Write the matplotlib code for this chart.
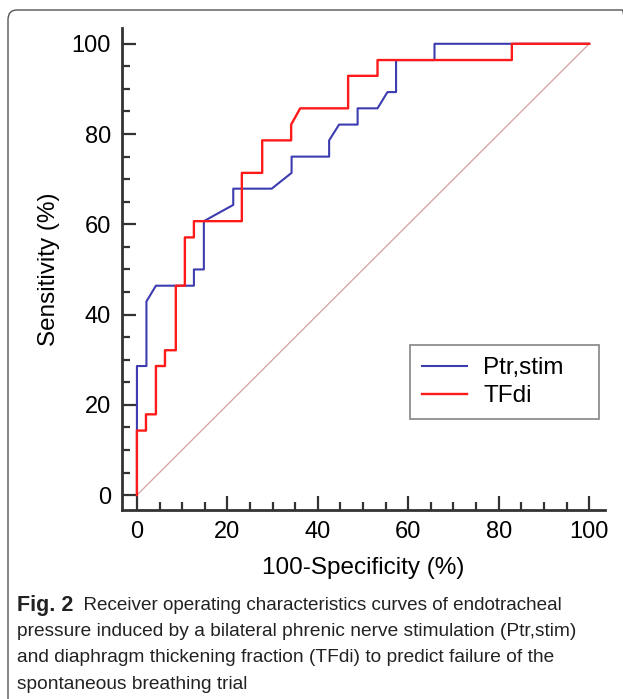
"""
ROC curves: Ptr,stim vs TFdi for predicting SBT failure.
"""

import matplotlib
matplotlib.use("Agg")
import matplotlib.pyplot as plt
from matplotlib.patches import FancyBboxPatch
from matplotlib.ticker import MultipleLocator

# ROC step points (100-specificity, sensitivity)
ptr_fpr = [0, 0, 2.1, 2.1, 4.2, 12.6, 12.6, 14.8, 14.8, 21.3, 21.3, 29.8, 34.2, 34.2,
           42.5, 42.5, 44.7, 48.8, 48.8, 53.2, 55.4, 57.3, 57.3, 65.8, 65.8, 100]
ptr_tpr = [0, 28.6, 28.6, 42.9, 46.4, 46.4, 50.0, 50.0, 60.7, 64.3, 67.9, 67.9, 71.4, 75.0,
           75.0, 78.6, 82.1, 82.1, 85.7, 85.7, 89.3, 89.3, 96.4, 96.4, 100, 100]

tfdi_fpr = [0, 0, 2.0, 2.0, 4.2, 4.2, 6.2, 6.2, 8.6, 8.6, 10.6, 10.6, 12.6, 12.6,
            23.2, 23.2, 27.7, 27.7, 34.1, 34.1, 36.1, 46.7, 46.7, 53.2, 53.2, 82.9, 82.9, 100]
tfdi_tpr = [0, 14.3, 14.3, 17.9, 17.9, 28.6, 28.6, 32.1, 32.1, 46.4, 46.4, 57.1, 57.1, 60.7,
            60.7, 71.4, 71.4, 78.6, 78.6, 82.1, 85.7, 85.7, 92.9, 92.9, 96.4, 96.4, 100, 100]

ref_line = [0, 100]
ticks = [0, 20, 40, 60, 80, 100]

caption_bold = "Fig. 2"
caption_lines = [
    "  Receiver operating characteristics curves of endotracheal",
    "pressure induced by a bilateral phrenic nerve stimulation (Ptr,stim)",
    "and diaphragm thickening fraction (TFdi) to predict failure of the",
    "spontaneous breathing trial",
]

W, H = 623, 699
fig = plt.figure(figsize=(W / 100, H / 100), dpi=100)

# rounded frame around figure panel
frame = FancyBboxPatch((8 / W, -0.05), 1.0, 1 - 10 / H + 0.05,
                       boxstyle="round,pad=0,rounding_size=0.014",
                       transform=fig.transFigure, fill=False,
                       edgecolor='#555555', linewidth=1.0)
fig.patches.append(frame)

ax = fig.add_axes([122 / W, 1 - 510 / H, (605 - 122) / W, (510 - 28) / H])
ax.set_xlim(-3.3, 103.5)
ax.set_ylim(-3.3, 103.5)

ax.plot(ref_line, ref_line, color='#d4a0a0', linewidth=0.9)
ax.plot(ptr_fpr, ptr_tpr, color='#3c3cb0', linewidth=1.5, label='Ptr,stim')
ax.plot(tfdi_fpr, tfdi_tpr, color='#ff1a1a', linewidth=1.7, label='TFdi')

for side in ['top', 'right']:
    ax.spines[side].set_visible(False)
for side in ['left', 'bottom']:
    ax.spines[side].set_linewidth(2.0)
    ax.spines[side].set_color('#333333')

ax.set_xticks(ticks)
ax.set_yticks(ticks)
ax.xaxis.set_minor_locator(MultipleLocator(5))
ax.yaxis.set_minor_locator(MultipleLocator(5))
ax.tick_params(which='major', direction='in', length=10, width=1.6, color='#333333',
               labelsize=17, pad=8)
ax.tick_params(which='minor', direction='in', length=5.5, width=1.6, color='#333333')
for lab in ax.get_xticklabels() + ax.get_yticklabels():
    lab.set_family('Liberation Sans')

ax.set_xlabel('100-Specificity (%)', fontsize=17.5, family='Liberation Sans', labelpad=10)
ax.set_ylabel('Sensitivity (%)', fontsize=17.5, family='Liberation Sans', labelpad=8)

# legend box spans x 410-599 px, top at 345 px
leg_x0 = (410 - 122) / 483
leg_w = (599 - 410) / 483
leg_top = 1 - (345 - 28) / 482
leg = ax.legend(loc='upper left', bbox_to_anchor=(leg_x0, leg_top - 0.3, leg_w, 0.3),
                mode='expand', frameon=True, fancybox=False, edgecolor='#666666',
                prop={'family': 'Liberation Sans', 'size': 17.5},
                handlelength=1.85, handletextpad=0.66, borderpad=0.5, labelspacing=0.25,
                borderaxespad=0)
leg.get_frame().set_linewidth(1.2)

# caption
cap_fam = ['Liberation Sans']
t = fig.text(17 / W, 1 - 605 / H, caption_bold, fontsize=15.5, fontweight='bold',
             family=cap_fam, va='center', color='#222222')
fig.canvas.draw()
bb = t.get_window_extent()
fig.text(bb.x1 / fig.bbox.width, 1 - 605 / H, caption_lines[0],
         fontsize=13.6, family=cap_fam, va='center', color='#222222')
for i, line in enumerate(caption_lines[1:]):
    fig.text(17 / W, 1 - (605 + 26.5 * (i + 1)) / H, line, fontsize=13.8,
             family=cap_fam, va='center', color='#222222')

fig.savefig('out.png', dpi=100)
